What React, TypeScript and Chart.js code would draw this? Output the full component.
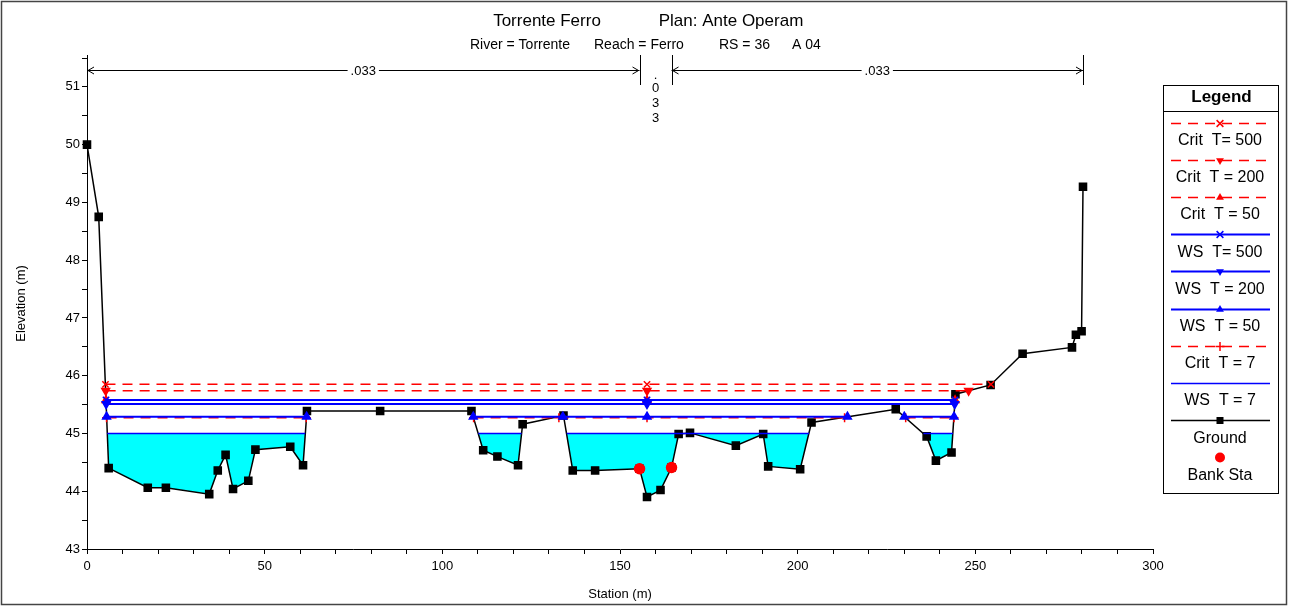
import React, { useEffect, useRef } from 'react';
import { Chart, registerables } from 'chart.js';

Chart.register(...registerables);

const FONT = '"Liberation Sans", Arial, Helvetica, sans-serif';

// ---------- data ----------
const groundStation = [0, 3.3, 6.1, 17.1, 22.2, 34.4, 36.8, 39.0, 41.1, 45.4, 47.4, 57.2, 60.8, 61.9, 82.5, 108.2, 111.5, 115.5, 121.3, 122.6, 134.1, 136.7, 143.0, 155.5, 157.6, 161.4, 164.5, 166.5, 169.7, 182.6, 190.3, 191.7, 200.7, 203.9, 227.6, 236.3, 238.9, 243.3, 244.4, 254.3, 263.3, 277.2, 278.3, 279.9, 280.3];
const groundElevation = [50.0, 48.75, 44.40, 44.06, 44.06, 43.95, 44.36, 44.63, 44.04, 44.18, 44.72, 44.77, 44.45, 45.39, 45.39, 45.39, 44.71, 44.60, 44.45, 45.16, 45.31, 44.36, 44.36, 44.39, 43.90, 44.02, 44.41, 44.99, 45.01, 44.79, 44.99, 44.43, 44.38, 45.19, 45.42, 44.95, 44.53, 44.67, 45.68, 45.84, 46.38, 46.49, 46.71, 46.77, 49.27];

const bankStation = [155.5, 164.5];
const bankElevation = [44.39, 44.41];

const critT500Station = [5.2, 157.6, 254.4];
const critT500Elevation = [45.85, 45.85, 45.85];
const critT200Station = [5.25, 157.6, 248.1];
const critT200Elevation = [45.74, 45.74, 45.74];
const critT50Station = [5.35, 157.6, 244.3];
const critT50Elevation = [45.575, 45.575, 45.575];
const wsT500Station = [5.35, 157.6, 244.3];
const wsT500Elevation = [45.58, 45.58, 45.58];
const wsT200Station = [5.4, 157.6, 244.2];
const wsT200Elevation = [45.51, 45.51, 45.51];
const wsT50Station = [5.5, 61.8, null, 108.7, 133.9, 157.6, 214.0, null, 230.0, 244.0];
const wsT50Elevation = [45.29, 45.29, null, 45.29, 45.29, 45.29, 45.29, null, 45.29, 45.29];
const critT7Station = [5.5, 61.7, null, 108.8, 132.8, 157.6, 213.2, null, 230.4, 244.0];
const critT7Elevation = [45.27, 45.27, null, 45.27, 45.27, 45.27, 45.27, null, 45.27, 45.27];
const wsT7Station = [5.7, 61.4, null, 110.1, 122.3, null, 135.0, 157.6, 203.2, null, 235.4, 243.7];
const wsT7Elevation = [45.0, 45.0, null, 45.0, 45.0, null, 45.0, 45.0, 45.0, null, 45.0, 45.0];

const manningBreaks = [0, 155.5, 164.5, 280.3];
const manningValues = ['.033', '.033', '.033'];

const titleParts = ['Torrente Ferro', 'Plan: Ante Operam'];
const subtitleParts = ['River = Torrente', 'Reach = Ferro', 'RS = 36', 'A 04'];

const legendLabels = ['Crit  T= 500', 'Crit  T = 200', 'Crit  T = 50', 'WS  T= 500', 'WS  T = 200', 'WS  T = 50', 'Crit  T = 7', 'WS  T = 7', 'Ground', 'Bank Sta'];

const xMin = 0, xMax = 300, xStep = 10, xLabelEvery = 50;
const yMin = 43, yMax = 51.5, yStep = 0.5;

// ---------- helpers ----------
function toPoints(st: (number | null)[], el: (number | null)[]) {
  let last = 0;
  return st.map((s, i) => {
    if (s === null || el[i] === null) return { x: last, y: null };
    last = s as number;
    return { x: s as number, y: el[i] as number };
  });
}

function drawMarker(ctx: CanvasRenderingContext2D, style: string | undefined, x: number, y: number, color: string) {
  if (!style) return;
  ctx.save();
  ctx.fillStyle = color;
  ctx.strokeStyle = color;
  ctx.lineWidth = 1.5;
  ctx.setLineDash([]);
  const r = 4.5;
  ctx.beginPath();
  if (style === 'crossRot') {
    ctx.moveTo(x - r * 0.75, y - r * 0.75); ctx.lineTo(x + r * 0.75, y + r * 0.75);
    ctx.moveTo(x + r * 0.75, y - r * 0.75); ctx.lineTo(x - r * 0.75, y + r * 0.75);
    ctx.stroke();
  } else if (style === 'cross') {
    ctx.moveTo(x - r, y); ctx.lineTo(x + r, y);
    ctx.moveTo(x, y - r); ctx.lineTo(x, y + r);
    ctx.stroke();
  } else if (style === 'triangle' || style === 'triangleDown') {
    const d = style === 'triangle' ? 1 : -1;
    ctx.moveTo(x, y - d * r);
    ctx.lineTo(x + r * 0.87, y + d * r * 0.5);
    ctx.lineTo(x - r * 0.87, y + d * r * 0.5);
    ctx.closePath();
    ctx.fill();
  } else if (style === 'rect') {
    ctx.fillRect(x - 3.5, y - 3.5, 7, 7);
  } else if (style === 'circle') {
    ctx.arc(x, y, 5, 0, Math.PI * 2);
    ctx.fill();
  }
  ctx.restore();
}

const RED = '#ff0000';
const BLUE = '#0000ff';
const BLACK = '#000000';
const DASH = [10, 7];

function lineSet(label: string, pts: any[], color: string, dashed: boolean, width: number, marker: string | undefined, order: number) {
  const rot = marker === 'triangleDown' ? 180 : 0;
  const ps = marker === 'triangleDown' ? 'triangle' : marker;
  return {
    label,
    data: pts,
    borderColor: color,
    backgroundColor: color,
    borderWidth: width,
    borderDash: dashed ? DASH : [],
    pointStyle: ps || 'circle',
    pointRadius: marker ? (marker === 'rect' ? 5 : 4.5) : 0,
    pointRotation: rot,
    pointBackgroundColor: color,
    pointBorderColor: color,
    pointBorderWidth: 1.5,
    fill: false,
    tension: 0,
    spanGaps: false,
    clip: false,
    order,
    _legendMarker: marker,
    _legendDashed: dashed,
  } as any;
}

const decorPlugin = {
  id: 'decor',
  afterDraw(chart: any) {
    const { ctx } = chart;
    const xs = chart.scales.x;
    ctx.save();
    // outer frame
    ctx.strokeStyle = '#444';
    ctx.lineWidth = 1.5;
    ctx.setLineDash([]);
    ctx.strokeRect(1.5, 1.5, 1285, 603);

    // titles
    ctx.fillStyle = '#000';
    ctx.textAlign = 'center';
    ctx.textBaseline = 'middle';
    ctx.font = `17px ${FONT}`;
    const tCenters = [547, 731];
    titleParts.forEach((t, i) => ctx.fillText(t, tCenters[i], 21));
    ctx.font = `14px ${FONT}`;
    ctx.textAlign = 'left';
    const sLefts = [470, 594, 719, 792];
    subtitleParts.forEach((t, i) => ctx.fillText(t, sLefts[i], 45));
    ctx.textAlign = 'center';

    // Manning's n annotations
    const ay = 70;
    ctx.strokeStyle = '#000';
    ctx.lineWidth = 1;
    ctx.font = `13px ${FONT}`;
    manningBreaks.forEach((b) => {
      const px = Math.round(xs.getPixelForValue(b)) + 0.5;
      ctx.beginPath();
      ctx.moveTo(px, 55);
      ctx.lineTo(px, 85);
      ctx.stroke();
    });
    manningValues.forEach((v, i) => {
      const a = xs.getPixelForValue(manningBreaks[i]);
      const b = xs.getPixelForValue(manningBreaks[i + 1]);
      const tw = ctx.measureText(v).width;
      if (b - a > tw + 30) {
        const mid = (a + b) / 2;
        ctx.beginPath();
        ctx.moveTo(a, ay + 0.5);
        ctx.lineTo(mid - tw / 2 - 3, ay + 0.5);
        ctx.moveTo(mid + tw / 2 + 3, ay + 0.5);
        ctx.lineTo(b, ay + 0.5);
        // arrowheads
        ctx.moveTo(a + 7, ay - 3); ctx.lineTo(a + 1, ay + 0.5); ctx.lineTo(a + 7, ay + 4);
        ctx.moveTo(b - 7, ay - 3); ctx.lineTo(b - 1, ay + 0.5); ctx.lineTo(b - 7, ay + 4);
        ctx.stroke();
        ctx.fillText(v, mid, ay + 1);
      } else {
        const mid = (a + b) / 2;
        const ys = [75, 88, 103, 118];
        v.split('').forEach((ch, k) => ctx.fillText(ch, mid, ys[k] ?? 118 + (k - 3) * 15));
      }
    });

    // legend
    const lx0 = 1163, lx1 = 1278, ly0 = 85, ly1 = 493;
    ctx.strokeStyle = '#000';
    ctx.lineWidth = 1;
    ctx.strokeRect(lx0 + 0.5, ly0 + 0.5, lx1 - lx0, ly1 - ly0);
    ctx.beginPath();
    ctx.moveTo(lx0, 111.5);
    ctx.lineTo(lx1 + 1, 111.5);
    ctx.stroke();
    ctx.font = `bold 17px ${FONT}`;
    ctx.fillText('Legend', (lx0 + lx1) / 2 + 1, 97);
    const ds = chart.data.datasets;
    const cx = 1220;
    ctx.font = `16px ${FONT}`;
    ds.forEach((d: any, i: number) => {
      const sy = 122.5 + i * 37.2;
      const ty = sy + 18;
      if (d.borderWidth > 0 && d.showLine !== false) {
        ctx.save();
        ctx.strokeStyle = d.borderColor;
        ctx.lineWidth = d.borderWidth;
        ctx.setLineDash(d._legendDashed ? DASH : []);
        ctx.beginPath();
        ctx.moveTo(1171, Math.round(sy) + 0.5);
        ctx.lineTo(1270, Math.round(sy) + 0.5);
        ctx.stroke();
        ctx.restore();
      }
      drawMarker(ctx, d._legendMarker, cx, Math.round(sy) + 0.5, d.pointBackgroundColor);
      ctx.fillStyle = '#000';
      ctx.fillText(legendLabels[i], cx, ty);
    });
    ctx.restore();
  },
};

export default function App() {
  const ref = useRef<HTMLCanvasElement | null>(null);
  useEffect(() => {
    if (!ref.current) return;
    const datasets = [
      lineSet('Crit T= 500', toPoints(critT500Station, critT500Elevation), RED, true, 1.5, 'crossRot', 2),
      lineSet('Crit T = 200', toPoints(critT200Station, critT200Elevation), RED, true, 1.5, 'triangleDown', 2),
      lineSet('Crit T = 50', toPoints(critT50Station, critT50Elevation), RED, true, 1.5, 'triangle', 2),
      lineSet('WS T= 500', toPoints(wsT500Station, wsT500Elevation), BLUE, false, 2, 'crossRot', 1),
      lineSet('WS T = 200', toPoints(wsT200Station, wsT200Elevation), BLUE, false, 2, 'triangleDown', 1),
      lineSet('WS T = 50', toPoints(wsT50Station, wsT50Elevation), BLUE, false, 2, 'triangle', 1),
      lineSet('Crit T = 7', toPoints(critT7Station, critT7Elevation), RED, true, 1.5, 'cross', 2),
      { ...lineSet('WS T = 7', toPoints(wsT7Station, wsT7Elevation), BLUE, false, 1.5, undefined, 1), fill: { target: 8, above: '#00ffff', below: 'rgba(0,0,0,0)' } },
      lineSet('Ground', toPoints(groundStation, groundElevation), BLACK, false, 1.5, 'rect', 3),
      { ...lineSet('Bank Sta', toPoints(bankStation, bankElevation), RED, false, 0, 'circle', 0), showLine: false, pointRadius: 5 },
    ];
    const tickFont = { family: FONT, size: 13 };
    const chart = new Chart(ref.current, {
      type: 'line',
      data: { datasets },
      options: {
        animation: false,
        responsive: false,
        events: [],
        layout: { padding: { top: 58, right: 136, left: 0, bottom: 0 } },
        plugins: {
          legend: { display: false },
          tooltip: { enabled: false },
          filler: { drawTime: 'beforeDatasetsDraw', propagate: false },
        } as any,
        scales: {
          x: {
            type: 'linear',
            min: xMin,
            max: xMax,
            ticks: {
              stepSize: xStep,
              autoSkip: false,
              maxRotation: 0,
              padding: 5,
              color: '#000',
              font: tickFont,
              callback: (v: any) => (Math.abs(v % xLabelEvery) < 1e-6 ? String(v) : ''),
            },
            grid: { display: true, drawOnChartArea: false, drawTicks: true, tickLength: 5, color: '#000', tickColor: '#000' },
            border: { display: true, color: '#000', width: 1 },
            title: { display: true, text: 'Station (m)', color: '#000', font: { family: FONT, size: 13 }, padding: { top: 0, bottom: 6 } },
            afterFit: (s: any) => { s.height = 59; },
          },
          y: {
            type: 'linear',
            min: yMin,
            max: yMax,
            ticks: {
              stepSize: yStep,
              autoSkip: false,
              padding: 2,
              color: '#000',
              font: tickFont,
              callback: (v: any) => (Math.abs(v - Math.round(v)) < 1e-6 ? String(Math.round(v)) : ''),
            },
            grid: { display: true, drawOnChartArea: false, drawTicks: true, tickLength: 5, color: '#000', tickColor: '#000' },
            border: { display: true, color: '#000', width: 1 },
            title: { display: true, text: 'Elevation (m)', color: '#000', font: { family: FONT, size: 13 }, padding: { top: 14, bottom: 0 } },
            afterFit: (s: any) => { s.width = 87; },
          },
        },
      } as any,
      plugins: [decorPlugin],
    });
    return () => chart.destroy();
  }, []);
  return (
    <div style={{ position: 'absolute', left: 0, top: 0, width: 1289, height: 608, background: '#fff' }}>
      <canvas ref={ref} width={1289} height={608} style={{ display: 'block' }} />
    </div>
  );
}
